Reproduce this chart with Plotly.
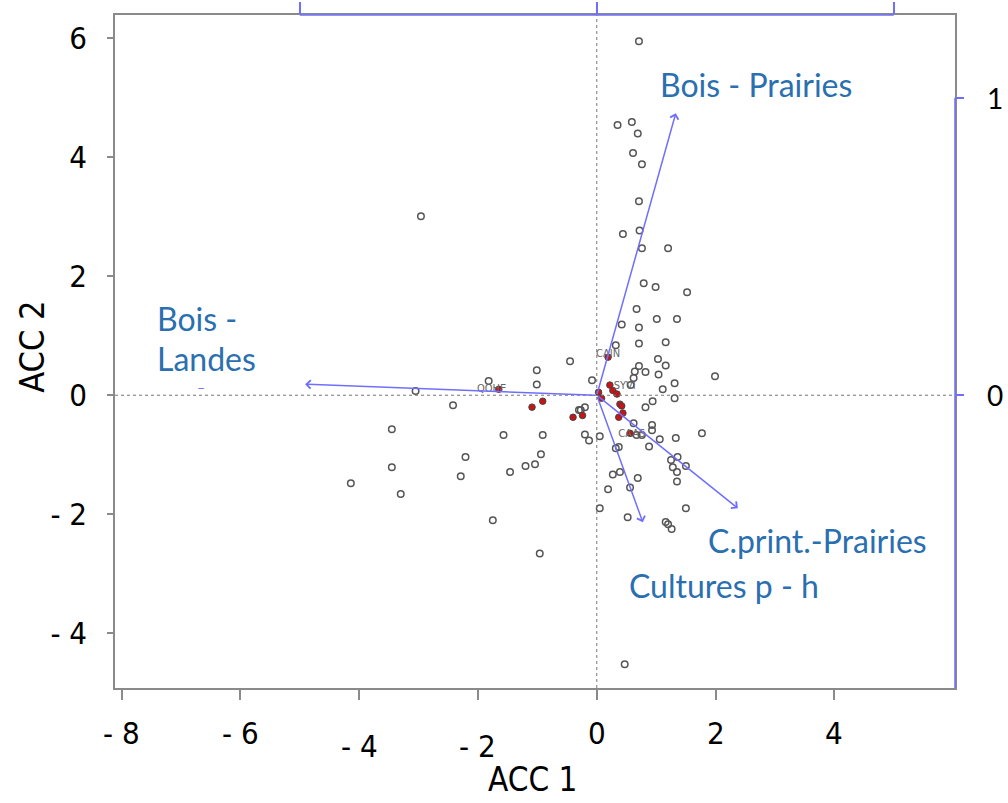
import plotly.graph_objects as go

# ---------------- data ----------------
gray_x = [0.71, 0.35, 0.59, 0.69, 0.61, 0.76, 0.71, 0.44, 0.72, 0.76, 1.20,
          0.79, 0.99, 1.52, 0.67, 1.01, 1.35, 0.42, 0.71, 0.32, 0.71, 1.16,
          -0.45, 1.03, 1.16, 0.71, 0.64, 0.82, 1.04, 0.62, 1.99, -0.08, 0.57,
          1.11, 1.31, 1.31, 0.94, 0.82, -0.27, -0.20, 0.62, 0.93, 0.93, 0.76,
          0.67, 1.06, 1.33, 1.77, -0.20, -0.13, 0.05, 0.32, 0.37, 0.88, 1.25,
          1.36, 1.28, 1.35, 1.50, 1.35, 0.27, 0.39, 0.69, 0.56, 0.19, 0.05,
          1.50, 0.52, 1.16, 1.20, 1.26, 0.47,
          -2.96, -3.05, -1.82, -1.01, -1.01, -2.42, -0.30, -3.45, -1.57, -0.91,
          -2.21, -0.94, -1.20, -1.04, -1.46, -2.29, -3.45, -4.14, -3.30, -1.75,
          -0.96]
gray_y = [5.95, 4.54, 4.59, 4.40, 4.07, 3.88, 3.26, 2.71, 2.77, 2.47, 2.47,
          1.88, 1.82, 1.73, 1.45, 1.28, 1.28, 1.19, 1.14, 0.84, 0.87, 0.89,
          0.57, 0.61, 0.50, 0.49, 0.40, 0.39, 0.35, 0.29, 0.32, 0.25, 0.17,
          0.10, 0.20, -0.05, -0.10, -0.20, -0.25, -0.20, -0.47, -0.50, -0.59, -0.67,
          -0.67, -0.74, -0.72, -0.64, -0.66, -0.76, -0.69, -0.89, -0.87, -0.86, -1.09,
          -1.04, -1.21, -1.29, -1.19, -1.45, -1.33, -1.29, -1.39, -1.55, -1.58, -1.90,
          -1.90, -2.05, -2.13, -2.17, -2.25, -4.52,
          3.01, 0.07, 0.24, 0.42, 0.18, -0.17, -0.25, -0.57, -0.67, -0.67,
          -1.04, -0.99, -1.19, -1.16, -1.29, -1.36, -1.21, -1.48, -1.66, -2.10,
          -2.66]

red_x = [-1.09, -0.91, -0.40, -0.24, 0.03, 0.08, 0.22, 0.27, 0.34, 0.39,
         0.42, 0.44, 0.37, 0.56, -1.65, 0.19]
red_y = [-0.20, -0.10, -0.37, -0.34, 0.05, -0.05, 0.17, 0.08, 0.02, -0.15,
         -0.18, -0.30, -0.37, -0.64, 0.10, 0.64]

site_names = ["CAIN", "SYVI", "QOHE", "CAAS"]
site_x = [0.19, 0.47, -1.77, 0.59]
site_y = [0.69, 0.15, 0.10, -0.66]

# environmental arrows (biplot scale, right/top axes)
arrow_names = ["Bois - Prairies", "Bois - Landes", "C.print.-Prairies", "Cultures p - h"]
arrow_x = [0.266, -0.982, 0.475, 0.155]
arrow_y = [0.948, 0.037, -0.380, -0.427]

x_ticks = [-8, -6, -4, -2, 0, 2, 4]
x_tick_text = ["- 8", "- 6", "- 4", "- 2", "0", "2", "4"]
y_ticks = [-4, -2, 0, 2, 4, 6]
y_tick_text = ["- 4", "- 2", "0", "2", "4", "6"]
right_ticks = [0, 1]
top_ticks = [-1, 0, 1]

# ---------------- figure ----------------
XR = [-8.11, 6.03]
YR = [-4.92, 6.39]
SC = 5.0
FRAME = "#8a8a8a"
BLUE = "#6f6fff"
LBL = "#2a6fb0"
TICKFONT = "DejaVu Sans Condensed, Liberation Sans Narrow, Roboto, sans-serif"

fig = go.Figure()

fig.add_trace(go.Scatter(x=gray_x, y=gray_y, mode="markers",
                         marker=dict(symbol="circle-open", size=6.5, color="#555555",
                                     line=dict(width=1.5)),
                         hoverinfo="skip"))
fig.add_trace(go.Scatter(x=red_x, y=red_y, mode="markers",
                         marker=dict(symbol="circle", size=6.5, color="#c81414",
                                     line=dict(width=1, color="#444444")),
                         hoverinfo="skip"))
fig.add_trace(go.Scatter(x=site_x, y=site_y, mode="text", text=site_names,
                         textfont=dict(size=11, color="#666666", family=TICKFONT),
                         hoverinfo="skip"))
fig.add_trace(go.Scatter(x=arrow_x, y=arrow_y, xaxis="x2", yaxis="y2", mode="markers",
                         marker=dict(size=1, opacity=0), hoverinfo="skip"))

# zero lines
fig.add_shape(type="line", xref="x", yref="paper", x0=0, x1=0, y0=0, y1=1,
              line=dict(color="#777777", width=1, dash="dot"))
fig.add_shape(type="line", xref="paper", yref="y", x0=0, x1=1, y0=0, y1=0,
              line=dict(color="#777777", width=1, dash="dot"))

# blue secondary axis lines
fig.add_shape(type="line", xref="x2", yref="paper", x0=top_ticks[0], x1=top_ticks[-1],
              y0=1, y1=1, line=dict(color=BLUE, width=1.5))
fig.add_shape(type="line", xref="paper", yref="y2", x0=1, x1=1,
              y0=right_ticks[-1], y1=YR[0] / SC, line=dict(color=BLUE, width=1.5))

# arrows
for ax_, ay_ in zip(arrow_x, arrow_y):
    fig.add_annotation(x=ax_, y=ay_, ax=0, ay=0, xref="x2", yref="y2",
                       axref="x2", ayref="y2", text="", showarrow=True,
                       arrowhead=4, arrowsize=1.1, arrowwidth=1.5,
                       arrowcolor=BLUE, standoff=0)

lblfont = dict(family="Lato, Open Sans, sans-serif", size=32, color=LBL)
fig.add_annotation(x=1.03, y=5.23, xref="x", yref="y", text="Bois - Prairies",
                   showarrow=False, xanchor="left", yanchor="middle", font=lblfont)
fig.add_annotation(x=-7.44, y=1.29, xref="x", yref="y", text="Bois -",
                   showarrow=False, xanchor="left", yanchor="middle", font=lblfont)
fig.add_annotation(x=-7.44, y=0.62, xref="x", yref="y", text="Landes",
                   showarrow=False, xanchor="left", yanchor="middle", font=lblfont)
fig.add_annotation(x=1.84, y=-2.44, xref="x", yref="y", text="C.print.-Prairies",
                   showarrow=False, xanchor="left", yanchor="middle", font=lblfont)
fig.add_annotation(x=0.51, y=-3.19, xref="x", yref="y", text="Cultures p - h",
                   showarrow=False, xanchor="left", yanchor="middle", font=lblfont)
fig.add_annotation(x=-6.67, y=0.13, xref="x", yref="y", text="\u2013",
                   showarrow=False, font=dict(family="Lato", size=14, color=BLUE))

# bottom tick labels (staggered as in the reference)
for v, t in zip(x_ticks, x_tick_text):
    yp = -0.0862 if v in (-4, -2) else -0.0669
    fig.add_annotation(x=v, y=yp, xref="x", yref="paper", text=t, showarrow=False,
                       xanchor="center", yanchor="middle",
                       font=dict(family=TICKFONT, size=31, color="black"))

# right tick labels
for v in right_ticks:
    fig.add_annotation(x=1.0476, y=v, xref="paper", yref="y2", text=str(v),
                       showarrow=False, xanchor="center", yanchor="middle",
                       font=dict(family="Lato, Open Sans, sans-serif", size=28, color="black"))

# axis titles
fig.add_annotation(x=0.4976, y=-0.1685, xref="paper", yref="paper", text="ACC 1",
                   showarrow=False, xanchor="center", yanchor="bottom",
                   font=dict(family=TICKFONT, size=33, color="black"))
fig.add_annotation(x=-0.0988, y=0.507, xref="paper", yref="paper", text="ACC 2",
                   showarrow=False, xanchor="center", yanchor="middle", textangle=-90,
                   font=dict(family=TICKFONT, size=34, color="black"))

fig.update_layout(
    width=1008, height=803,
    margin=dict(l=115, r=53, t=15, b=115),
    plot_bgcolor="white", paper_bgcolor="white",
    showlegend=False,
    xaxis=dict(range=XR, automargin=False, showgrid=False, zeroline=False,
               showline=True, mirror=True,
               linecolor=FRAME, linewidth=1.5, ticks="outside", ticklen=10,
               tickcolor=FRAME, tickwidth=1.5, tickvals=x_ticks, showticklabels=False),
    yaxis=dict(range=YR, automargin=False, showgrid=False, zeroline=False,
               showline=True, mirror=True,
               linecolor=FRAME, linewidth=1.5, ticks="outside", ticklen=6,
               tickcolor=FRAME, tickwidth=1.5, tickvals=y_ticks, ticktext=y_tick_text,
               tickfont=dict(family=TICKFONT, size=31, color="black"),
               ticklabelstandoff=14),
    xaxis2=dict(range=[XR[0] / SC, XR[1] / SC], automargin=False, overlaying="x",
                side="top", showgrid=False, zeroline=False, showline=False,
                ticks="outside", ticklen=12, tickcolor=BLUE, tickwidth=1.5,
                tickvals=top_ticks, showticklabels=False),
    yaxis2=dict(range=[YR[0] / SC, YR[1] / SC], automargin=False, overlaying="y",
                side="right", showgrid=False, zeroline=False, showline=False,
                ticks="outside", ticklen=8, tickcolor=BLUE, tickwidth=1.5,
                tickvals=right_ticks, showticklabels=False),
)

fig.write_html("out.html")
